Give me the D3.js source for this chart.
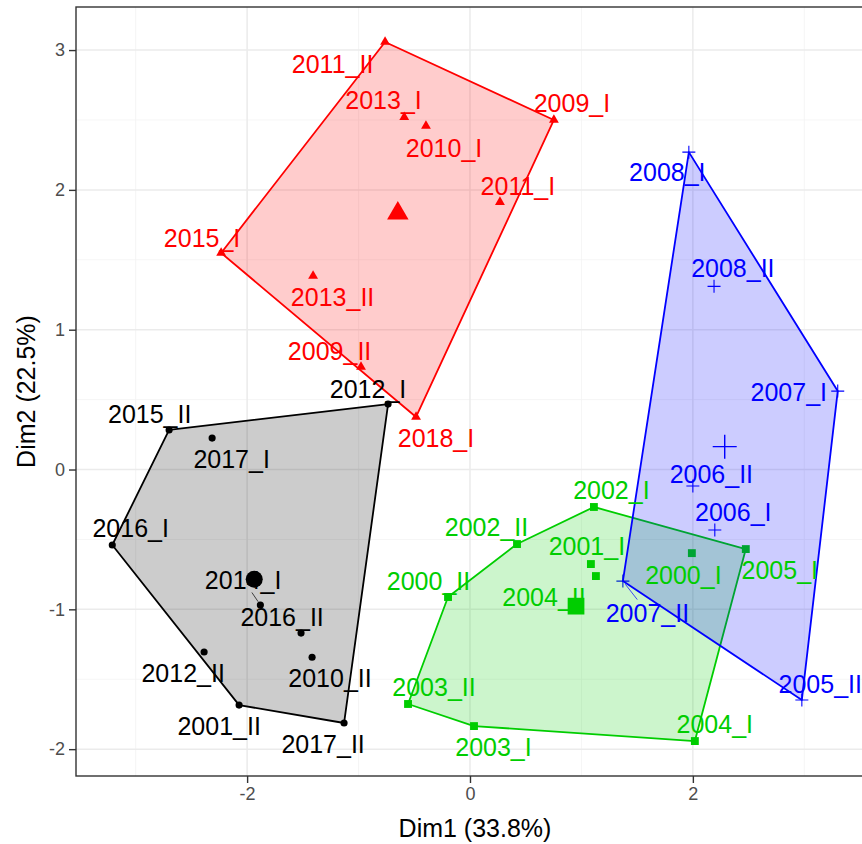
<!DOCTYPE html>
<html>
<head>
<meta charset="utf-8">
<script src="https://cdn.jsdelivr.net/npm/d3@7"></script>
<style>
  body { margin: 0; background: #fff; }
  svg { display: block; font-family: "Liberation Sans", Arial, sans-serif; }
</style>
</head>
<body>
<script>
(function(){

  //point data
  var names = ["2011_II","2009_I","2013_I","2010_I","2011_I","2015_I","2013_II","2009_II","2018_I",
               "2012_I","2015_II","2017_I","2016_I","2014_I","2016_II","2010_II","2012_II","2001_II","2017_II",
               "2002_I","2002_II","2000_II","2003_II","2003_I","2004_I","2005_I","2000_I","2001_I","2004_II",
               "2008_I","2008_II","2007_I","2006_II","2006_I","2007_II","2005_II"];
  var cluster = [2,2,2,2,2,2,2,2,2,
                 1,1,1,1,1,1,1,1,1,1,
                 3,3,3,3,3,3,3,3,3,3,
                 4,4,4,4,4,4,4];
  var dim1 = [-0.762,0.753,-0.59,-0.395,0.269,-2.233,-1.408,-0.978,-0.484,
              -0.735,-2.70,-2.314,-3.21,-1.881,-1.516,-1.417,-2.386,-2.072,-1.13,
              1.112,0.422,-0.197,-0.556,0.036,2.018,2.475,1.991,1.085,1.13,
              1.964,2.19,3.30,2.0,2.197,1.372,2.978];
  var dim2 = [3.058,2.50,2.52,2.457,1.913,1.549,1.384,0.733,0.376,
              0.468,0.283,0.225,-0.54,-0.969,-1.17,-1.343,-1.305,-1.685,-1.813,
              -0.268,-0.533,-0.912,-1.677,-1.835,-1.942,-0.569,-0.598,-0.676,-0.762,
              2.27,1.31,0.561,-0.118,-0.433,-0.798,-1.648];
  //where the repelled labels ended up (label centre, data units)
  var labelDim1 = [-1.233,0.915,-0.776,-0.233,0.43,-2.404,-1.233,-1.26,-0.305,
                   -0.915,-2.874,-2.139,-3.045,-2.036,-1.686,-1.256,-2.574,-2.251,-1.318,
                   1.269,0.148,-0.372,-0.323,0.211,2.197,2.78,1.915,1.049,0.664,
                   1.771,2.359,2.861,2.166,2.363,1.592,3.143];
  var labelDim2 = [2.901,2.618,2.64,2.296,2.028,1.656,1.234,0.848,0.222,
                   0.576,0.397,0.075,-0.418,-0.787,-1.055,-1.495,-1.459,-1.838,-1.96,
                   -0.15,-0.411,-0.798,-1.556,-1.985,-1.82,-0.719,-0.758,-0.544,-0.912,
                   2.128,1.441,0.551,-0.03,-0.304,-1.023,-1.534];
  var segmentLabels = ["2014_I","2007_II"]; //labels that got a leader line

  var clusterIds = [1,2,3,4];
  var clusterColors = ["#000000","#FF0000","#00CD00","#0000FF"];
  var xTitle = "Dim1 (33.8%)",
      yTitle = "Dim2 (22.5%)";

  var points = names.map(function(n, i){
    return {name: n, cluster: cluster[i], x: dim1[i], y: dim2[i], lx: labelDim1[i], ly: labelDim2[i]};
  });

  var width = 862, height = 844,
      panelLeft = 76, panelRight = 874, panelTop = 7, panelBottom = 776;

  var color = d3.scaleOrdinal().domain(clusterIds).range(clusterColors);

  //ggplot style 5% expansion
  function expand(ext){
    var d = (ext[1] - ext[0]) * 0.05;
    return [ext[0] - d, ext[1] + d];
  }

  var x = d3.scaleLinear().domain(expand(d3.extent(dim1))).range([panelLeft, panelRight]);
  var y = d3.scaleLinear().domain(expand(d3.extent(dim2))).range([panelBottom, panelTop]);

  var svg = d3.select("body").append("svg")
    .attr("width", width)
    .attr("height", height);

  svg.append("clipPath").attr("id", "panel")
    .append("rect")
    .attr("x", panelLeft).attr("y", panelTop)
    .attr("width", panelRight - panelLeft).attr("height", panelBottom - panelTop);

  var panel = svg.append("g").attr("clip-path", "url(#panel)");

  //grid lines
  var xMajor = [-2, 0, 2], xMinor = [-3, -1, 1, 3];
  var yMajor = [-2, -1, 0, 1, 2, 3], yMinor = [-1.5, -0.5, 0.5, 1.5, 2.5];

  panel.selectAll(".xminor").data(xMinor).enter().append("line")
    .attr("x1", x).attr("x2", x).attr("y1", panelTop).attr("y2", panelBottom)
    .attr("stroke", "#F2F2F2").attr("stroke-width", 0.8);
  panel.selectAll(".yminor").data(yMinor).enter().append("line")
    .attr("y1", y).attr("y2", y).attr("x1", panelLeft).attr("x2", panelRight)
    .attr("stroke", "#F2F2F2").attr("stroke-width", 0.8);
  panel.selectAll(".xmajor").data(xMajor).enter().append("line")
    .attr("x1", x).attr("x2", x).attr("y1", panelTop).attr("y2", panelBottom)
    .attr("stroke", "#EBEBEB").attr("stroke-width", 1.5);
  panel.selectAll(".ymajor").data(yMajor).enter().append("line")
    .attr("y1", y).attr("y2", y).attr("x1", panelLeft).attr("x2", panelRight)
    .attr("stroke", "#EBEBEB").attr("stroke-width", 1.5);

  //marker shapes per cluster
  function markerPath(c, big){
    if (c == 1) return d3.symbol().type(d3.symbolCircle).size(big ? 227 : 40)();
    if (c == 2) return d3.symbol().type(d3.symbolTriangle).size(big ? 200 : 42)();
    if (c == 3) return d3.symbol().type(d3.symbolSquare).size(big ? 280 : 62)();
    var h = big ? 12 : 6.5;
    return "M" + (-h) + ",0H" + h + "M0," + (-h) + "V" + h;
  }

  function drawMarker(sel, big){
    sel.attr("transform", function(d){ return "translate(" + x(d.x) + "," + y(d.y) + ")"; })
      .attr("d", function(d){ return markerPath(d.cluster, big); })
      .attr("fill", function(d){ return d.cluster == 4 ? "none" : color(d.cluster); })
      .attr("stroke", function(d){ return d.cluster == 4 ? color(d.cluster) : "none"; })
      .attr("stroke-width", big ? 1.4 : 1.1);
  }

  //individual points
  panel.selectAll(".pt").data(points).enter().append("path")
    .attr("class", "pt")
    .call(drawMarker, false);

  //cluster means
  var centers = clusterIds.map(function(c){
    var sub = points.filter(function(p){ return p.cluster == c; });
    return {cluster: c, x: d3.mean(sub, function(p){ return p.x; }), y: d3.mean(sub, function(p){ return p.y; })};
  });
  panel.selectAll(".center").data(centers).enter().append("path")
    .attr("class", "center")
    .call(drawMarker, true);

  //convex hulls
  var hulls = clusterIds.map(function(c){
    var pts = points.filter(function(p){ return p.cluster == c; })
      .map(function(p){ return [x(p.x), y(p.y)]; });
    return {cluster: c, hull: d3.polygonHull(pts)};
  });
  panel.selectAll(".hull").data(hulls).enter().append("path")
    .attr("class", "hull")
    .attr("d", function(d){ return "M" + d.hull.join("L") + "Z"; })
    .attr("fill", function(d){ return color(d.cluster); })
    .attr("fill-opacity", 0.2)
    .attr("stroke", function(d){ return color(d.cluster); })
    .attr("stroke-width", 1.8)
    .attr("stroke-linejoin", "round");

  //labels
  var fontSize = 25, capHalf = fontSize * 0.358;
  var labels = panel.selectAll(".lab").data(points).enter().append("text")
    .attr("class", "lab")
    .attr("x", function(d){ return x(d.lx); })
    .attr("y", function(d){ return y(d.ly) + capHalf; })
    .attr("text-anchor", "middle")
    .attr("font-size", fontSize)
    .attr("fill", function(d){ return color(d.cluster); })
    .text(function(d){ return d.name; });

  //leader segments: from the point to the edge of the label box
  labels.each(function(d){
    if (segmentLabels.indexOf(d.name) < 0) return;
    var w = this.getComputedTextLength(), pad = 4;
    var cx = x(d.lx), cy = y(d.ly), px = x(d.x), py = y(d.y);
    var hw = w / 2 + pad, hh = capHalf + pad;
    var dx = px - cx, dy = py - cy;
    var t = Math.min(Math.abs(hw / dx), Math.abs(hh / dy));
    var ex = cx + dx * t, ey = cy + dy * t;
    var len = Math.hypot(px - ex, py - ey), gap = 4;
    panel.insert("line", ".lab")
      .attr("x1", ex).attr("y1", ey)
      .attr("x2", px - (px - ex) * gap / len).attr("y2", py - (py - ey) * gap / len)
      .attr("stroke", color(d.cluster)).attr("stroke-width", 0.7);
  });

  //panel border
  svg.append("rect")
    .attr("x", panelLeft).attr("y", panelTop)
    .attr("width", panelRight - panelLeft).attr("height", panelBottom - panelTop)
    .attr("fill", "none").attr("stroke", "#333333").attr("stroke-width", 1.4);

  //axes
  var xAxis = svg.append("g")
    .attr("transform", "translate(0," + panelBottom + ")")
    .call(d3.axisBottom(x).tickValues(xMajor).tickSize(7).tickPadding(4).tickFormat(d3.format("d")));
  var yAxis = svg.append("g")
    .attr("transform", "translate(" + panelLeft + ",0)")
    .call(d3.axisLeft(y).tickValues(yMajor).tickSize(7).tickPadding(4).tickFormat(d3.format("d")));

  [xAxis, yAxis].forEach(function(a){
    a.select(".domain").remove();
    a.selectAll(".tick line").attr("stroke", "#333333").attr("stroke-width", 1.4);
    a.selectAll(".tick text")
      .attr("fill", "#4D4D4D")
      .attr("font-size", 18)
      .attr("font-family", "Liberation Sans, Arial, sans-serif")
      .text(function(d){ return d < 0 ? "-" + Math.abs(d) : d; });
  });

  //axis titles
  svg.append("text")
    .attr("x", (panelLeft + panelRight) / 2)
    .attr("y", 837)
    .attr("text-anchor", "middle")
    .attr("font-size", 25)
    .attr("fill", "#000")
    .text(xTitle);

  svg.append("text")
    .attr("transform", "translate(35," + (panelTop + panelBottom) / 2 + ") rotate(-90)")
    .attr("text-anchor", "middle")
    .attr("font-size", 25)
    .attr("fill", "#000")
    .text(yTitle);

})();
</script>
</body>
</html>
